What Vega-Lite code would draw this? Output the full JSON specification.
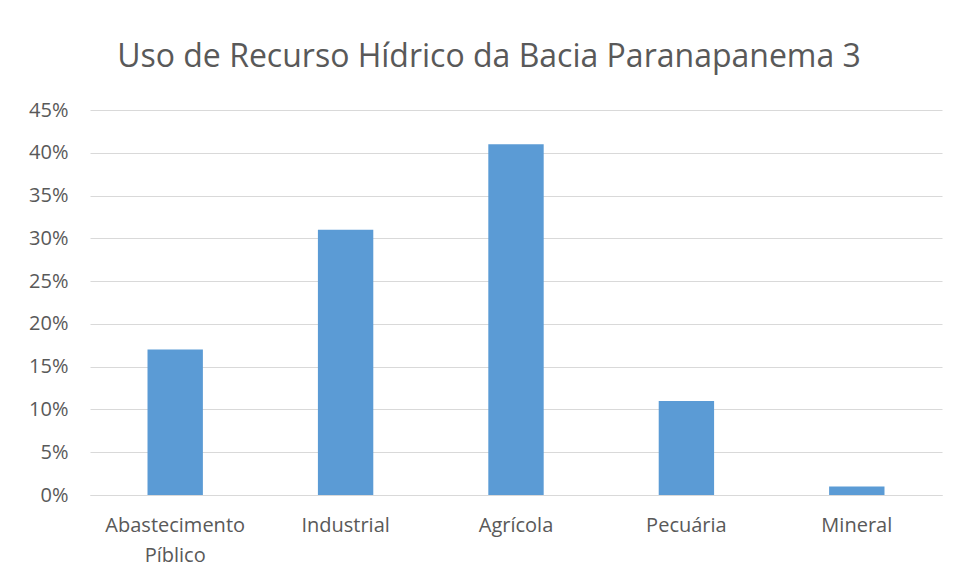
{
  "$schema": "https://vega.github.io/schema/vega-lite/v6.json",
  "autosize": {"type": "none"},
  "width": 852,
  "height": 385,
  "padding": {"left": 90, "top": 110, "right": 12, "bottom": 84},
  "background": "white",
  "data": {"values": [
    {"uso": "Abastecimento Píblico", "valor": 0.17},
    {"uso": "Industrial", "valor": 0.31},
    {"uso": "Agrícola", "valor": 0.41},
    {"uso": "Pecuária", "valor": 0.11},
    {"uso": "Mineral", "valor": 0.01}
  ]},
  "title": {
    "text": "Uso de Recurso Hídrico da Bacia Paranapanema 3",
    "anchor": "middle",
    "fontSize": 32,
    "font": "Open Sans",
    "fontWeight": "normal",
    "color": "#595959",
    "offset": 26,
    "dx": -27
  },
  "config": {
    "view": {"stroke": null},
    "font": "Open Sans"
  },
  "mark": {"type": "bar", "color": "#5b9bd5"},
  "encoding": {
    "x": {
      "field": "uso",
      "type": "nominal",
      "sort": null,
      "scale": {"paddingInner": 0.675, "paddingOuter": 0.3375},
      "axis": {
        "title": null,
        "labelAngle": 0,
        "labelFontSize": 20,
        "labelColor": "#595959",
        "labelPadding": 20,
        "labelLineHeight": 30,
        "ticks": false,
        "domainColor": "#d9d9d9",
        "labelExpr": "datum.label == 'Abastecimento Píblico' ? ['Abastecimento', 'Píblico'] : datum.label"
      }
    },
    "y": {
      "field": "valor",
      "type": "quantitative",
      "scale": {"domain": [0, 0.45], "nice": false},
      "axis": {
        "title": null,
        "format": ".0%",
        "values": [0, 0.05, 0.1, 0.15, 0.2, 0.25, 0.3, 0.35, 0.4, 0.45],
        "labelFontSize": 20,
        "labelColor": "#595959",
        "labelPadding": 22,
        "ticks": false,
        "domain": false,
        "gridColor": "#d9d9d9"
      }
    }
  }
}
